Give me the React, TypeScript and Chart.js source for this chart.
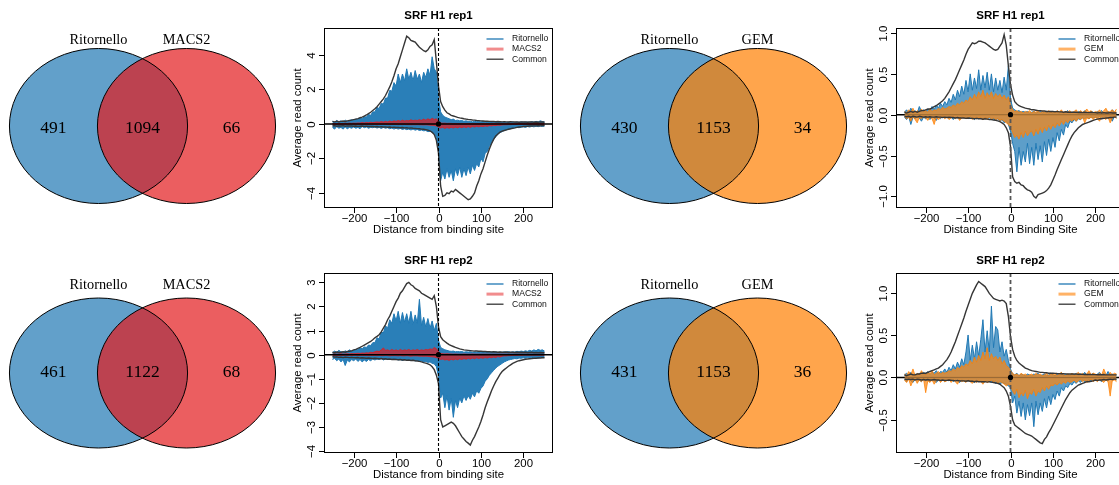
import React, { useEffect, useRef } from "react";
import { Chart, registerables } from "chart.js";
Chart.register(...registerables);

// ---------------- DATA ----------------
const positions = [
  -250,-245,-240,-235,-230,-225,-220,-215,-210,-205,
  -200,-195,-190,-185,-180,-175,-170,-165,-160,-155,
  -150,-145,-140,-135,-130,-125,-120,-115,-110,-105,
  -100,-95,-90,-85,-80,-75,-70,-65,-60,-55,
  -50,-45,-40,-35,-30,-25,-20,-15,-10,-5,
  0,5,10,15,20,25,30,35,40,45,
  50,55,60,65,70,75,80,85,90,95,
  100,105,110,115,120,125,130,135,140,145,
  150,155,160,165,170,175,180,185,190,195,
  200,205,210,215,220,225,230,235,240,245,250
];

const xTickValues = [-200, -100, 0, 100, 200];
const xTickLabels = ["\u2212200", "\u2212100", "0", "100", "200"];

// SRF H1 rep1 — Ritornello vs MACS2
const com1Pos = [
  0.15,0.12,0.16,0.13,0.15,0.17,0.14,0.18,0.2,0.22,
  0.25,0.28,0.31,0.36,0.4,0.46,0.52,0.6,0.68,0.78,
  0.88,1.0,1.15,1.3,1.45,1.65,1.9,2.15,2.45,2.8,
  3.2,3.5,3.9,4.3,4.7,5.1,5.0,4.85,4.8,4.75,
  4.6,4.45,4.35,4.25,4.2,4.3,4.5,4.6,4.9,3.6,
  2.2,1.3,1.0,0.8,0.65,0.58,0.5,0.46,0.42,0.38,
  0.35,0.33,0.3,0.28,0.26,0.25,0.23,0.22,0.2,0.19,
  0.18,0.17,0.16,0.16,0.15,0.14,0.15,0.13,0.14,0.13,
  0.12,0.13,0.12,0.11,0.13,0.12,0.11,0.12,0.1,0.12,
  0.11,0.12,0.1,0.11,0.12,0.1,0.11,0.1,0.12,0.11,0.1
];
const com1Neg = [
  -0.12,-0.1,-0.13,-0.11,-0.12,-0.1,-0.13,-0.11,-0.12,-0.12,
  -0.13,-0.12,-0.14,-0.13,-0.12,-0.14,-0.13,-0.15,-0.14,-0.15,
  -0.16,-0.15,-0.17,-0.16,-0.18,-0.17,-0.19,-0.18,-0.2,-0.19,
  -0.21,-0.2,-0.22,-0.21,-0.23,-0.22,-0.24,-0.23,-0.25,-0.26,
  -0.27,-0.28,-0.3,-0.31,-0.33,-0.36,-0.4,-0.48,-0.62,-0.95,
  -1.7,-3.6,-4.2,-4.15,-4.0,-4.05,-3.9,-3.95,-3.8,-3.9,
  -4.0,-4.1,-4.2,-4.3,-4.4,-4.35,-4.2,-4.0,-3.6,-3.3,
  -2.9,-2.6,-2.2,-1.8,-1.45,-1.15,-0.9,-0.7,-0.58,-0.48,
  -0.42,-0.38,-0.34,-0.31,-0.28,-0.25,-0.23,-0.2,-0.18,-0.17,
  -0.15,-0.14,-0.13,-0.12,-0.12,-0.11,-0.11,-0.1,-0.11,-0.1,-0.1
];
const rit1Pos = [
  0.15,0.1,0.2,0.12,0.18,0.1,0.22,0.14,0.2,0.25,
  0.2,0.28,0.25,0.33,0.3,0.42,0.4,0.55,0.5,0.7,
  0.7,0.95,0.9,1.2,1.15,1.5,1.5,1.95,1.9,2.4,
  2.2,2.9,2.4,2.9,2.5,3.2,2.6,3.0,2.5,3.1,
  2.6,2.9,2.4,3.0,2.7,3.2,2.8,3.9,3.2,3.0,
  1.5,0.7,0.5,0.4,0.35,0.3,0.25,0.28,0.2,0.22,
  0.18,0.2,0.15,0.18,0.14,0.16,0.12,0.15,0.13,0.14,
  0.12,0.14,0.1,0.13,0.11,0.12,0.1,0.13,0.11,0.12,
  0.1,0.12,0.09,0.11,0.1,0.12,0.09,0.11,0.1,0.12,
  0.1,0.11,0.12,0.1,0.13,0.11,0.15,0.12,0.18,0.14,0.12
];
const rit1Neg = [
  -0.2,-0.3,-0.15,-0.25,-0.2,-0.3,-0.18,-0.28,-0.2,-0.25,
  -0.18,-0.25,-0.2,-0.28,-0.15,-0.22,-0.18,-0.25,-0.2,-0.22,
  -0.18,-0.24,-0.2,-0.26,-0.2,-0.25,-0.22,-0.28,-0.24,-0.3,
  -0.25,-0.3,-0.26,-0.32,-0.28,-0.33,-0.3,-0.35,-0.3,-0.36,
  -0.32,-0.38,-0.35,-0.4,-0.38,-0.45,-0.42,-0.5,-0.55,-0.8,
  -1.5,-3.3,-2.8,-3.2,-2.6,-3.1,-2.7,-3.3,-2.6,-3.0,
  -2.5,-3.1,-2.6,-3.0,-2.5,-2.9,-2.4,-2.7,-2.3,-2.5,
  -2.0,-2.2,-1.7,-1.6,-1.3,-1.1,-0.9,-0.75,-0.6,-0.5,
  -0.45,-0.38,-0.35,-0.3,-0.28,-0.25,-0.22,-0.2,-0.22,-0.18,
  -0.16,-0.2,-0.15,-0.18,-0.14,-0.17,-0.13,-0.16,-0.12,-0.15,-0.12
];
const mac1Pos = [
  0.02,0.03,0.02,0.04,0.02,0.03,0.04,0.03,0.05,0.03,
  0.05,0.04,0.06,0.05,0.08,0.06,0.09,0.07,0.1,0.08,
  0.1,0.12,0.1,0.14,0.11,0.15,0.12,0.17,0.13,0.18,
  0.15,0.2,0.16,0.22,0.17,0.2,0.18,0.24,0.19,0.22,
  0.2,0.25,0.21,0.28,0.22,0.3,0.24,0.33,0.26,0.3,
  0.15,0.06,0.04,0.05,0.03,0.04,0.03,0.02,0.03,0.02,
  0.02,0.03,0.02,0.02,0.03,0.02,0.02,0.03,0.02,0.02,
  0.02,0.02,0.03,0.02,0.02,0.02,0.03,0.02,0.02,0.02,
  0.02,0.02,0.02,0.02,0.02,0.02,0.02,0.02,0.02,0.02,
  0.02,0.02,0.02,0.02,0.02,0.02,0.02,0.02,0.02,0.02,0.02
];
const mac1Neg = [
  -0.02,-0.03,-0.02,-0.02,-0.03,-0.02,-0.02,-0.03,-0.02,-0.02,
  -0.02,-0.03,-0.02,-0.03,-0.02,-0.03,-0.02,-0.03,-0.03,-0.02,
  -0.03,-0.02,-0.03,-0.03,-0.02,-0.03,-0.03,-0.04,-0.03,-0.03,
  -0.03,-0.04,-0.03,-0.04,-0.03,-0.04,-0.04,-0.05,-0.04,-0.05,
  -0.04,-0.05,-0.05,-0.06,-0.05,-0.06,-0.07,-0.08,-0.09,-0.12,
  -0.18,-0.24,-0.2,-0.26,-0.21,-0.25,-0.2,-0.24,-0.19,-0.23,
  -0.18,-0.22,-0.17,-0.21,-0.16,-0.2,-0.15,-0.18,-0.14,-0.17,
  -0.13,-0.15,-0.12,-0.14,-0.1,-0.12,-0.09,-0.1,-0.07,-0.08,
  -0.06,-0.05,-0.05,-0.04,-0.04,-0.03,-0.03,-0.03,-0.02,-0.03,
  -0.02,-0.02,-0.02,-0.02,-0.02,-0.02,-0.02,-0.02,-0.02,-0.02,-0.02
];

// SRF H1 rep2 — Ritornello vs MACS2
const com3Pos = [
  0.1,0.08,0.11,0.09,0.1,0.12,0.1,0.13,0.14,0.16,
  0.2,0.22,0.26,0.3,0.35,0.4,0.45,0.5,0.55,0.62,
  0.7,0.76,0.83,0.95,1.1,1.25,1.45,1.6,1.8,2.0,
  2.2,2.35,2.55,2.65,2.8,2.95,3.0,2.9,2.85,2.75,
  2.7,2.65,2.55,2.5,2.45,2.4,2.35,2.3,2.45,2.0,
  1.15,0.75,0.62,0.55,0.48,0.42,0.38,0.34,0.3,0.27,
  0.24,0.22,0.2,0.19,0.18,0.17,0.16,0.15,0.15,0.14,
  0.14,0.13,0.13,0.12,0.12,0.11,0.12,0.11,0.1,0.11,
  0.1,0.1,0.11,0.09,0.1,0.1,0.09,0.1,0.09,0.1,
  0.09,0.1,0.08,0.09,0.1,0.08,0.09,0.08,0.09,0.08,0.08
];
const com3Neg = [
  -0.08,-0.1,-0.09,-0.11,-0.1,-0.12,-0.1,-0.11,-0.12,-0.11,
  -0.12,-0.13,-0.12,-0.14,-0.13,-0.14,-0.15,-0.14,-0.15,-0.16,
  -0.15,-0.16,-0.17,-0.16,-0.18,-0.17,-0.19,-0.18,-0.2,-0.19,
  -0.2,-0.21,-0.2,-0.22,-0.21,-0.23,-0.22,-0.24,-0.23,-0.25,
  -0.26,-0.28,-0.3,-0.33,-0.35,-0.38,-0.42,-0.5,-0.62,-0.85,
  -1.2,-2.7,-3.0,-2.95,-2.9,-2.85,-2.8,-2.85,-2.95,-3.1,
  -3.25,-3.4,-3.5,-3.6,-3.67,-3.75,-3.55,-3.4,-3.2,-3.0,
  -2.77,-2.5,-2.2,-1.95,-1.73,-1.5,-1.3,-1.12,-0.97,-0.82,
  -0.7,-0.62,-0.55,-0.48,-0.42,-0.36,-0.32,-0.28,-0.25,-0.23,
  -0.21,-0.19,-0.18,-0.17,-0.16,-0.15,-0.15,-0.14,-0.14,-0.13,-0.13
];
const rit3Pos = [
  0.08,0.15,0.1,0.18,0.12,0.1,0.16,0.12,0.2,0.15,
  0.18,0.22,0.2,0.28,0.25,0.32,0.3,0.4,0.38,0.5,
  0.5,0.7,0.65,0.95,0.9,1.2,1.1,1.45,1.3,1.7,
  1.4,1.8,1.3,1.75,1.35,1.7,1.3,1.8,1.25,1.65,
  1.3,2.3,1.2,1.55,1.15,1.5,1.1,1.4,1.0,1.3,
  0.6,0.3,0.25,0.2,0.18,0.15,0.14,0.15,0.12,0.13,
  0.12,0.13,0.1,0.12,0.11,0.12,0.1,0.11,0.1,0.12,
  0.1,0.11,0.1,0.12,0.1,0.11,0.1,0.12,0.1,0.11,
  0.1,0.12,0.11,0.13,0.1,0.12,0.11,0.14,0.12,0.15,
  0.13,0.16,0.14,0.18,0.15,0.2,0.16,0.22,0.18,0.2,0.15
];
const rit3Neg = [
  -0.2,-0.15,-0.25,-0.18,-0.3,-0.2,-0.45,-0.22,-0.3,-0.2,
  -0.25,-0.18,-0.28,-0.2,-0.3,-0.22,-0.28,-0.2,-0.25,-0.18,
  -0.22,-0.18,-0.2,-0.16,-0.22,-0.18,-0.2,-0.16,-0.18,-0.2,
  -0.18,-0.22,-0.2,-0.24,-0.2,-0.22,-0.2,-0.25,-0.22,-0.26,
  -0.24,-0.28,-0.26,-0.3,-0.28,-0.32,-0.3,-0.36,-0.38,-0.5,
  -0.9,-1.8,-1.6,-2.2,-1.7,-2.3,-1.8,-2.6,-1.9,-2.2,
  -1.8,-2.0,-1.7,-1.9,-1.7,-1.85,-1.6,-1.75,-1.5,-1.6,
  -1.4,-1.3,-1.1,-1.0,-0.85,-0.75,-0.65,-0.55,-0.48,-0.42,
  -0.36,-0.3,-0.26,-0.22,-0.2,-0.18,-0.16,-0.17,-0.14,-0.15,
  -0.13,-0.15,-0.12,-0.14,-0.11,-0.13,-0.12,-0.14,-0.11,-0.12,-0.1
];
const mac3Pos = [
  0.02,0.03,0.02,0.03,0.04,0.02,0.03,0.04,0.03,0.05,
  0.04,0.05,0.06,0.05,0.07,0.06,0.08,0.07,0.1,0.09,
  0.12,0.15,0.13,0.2,0.28,0.18,0.2,0.16,0.22,0.17,
  0.2,0.16,0.22,0.17,0.2,0.18,0.22,0.17,0.2,0.18,
  0.22,0.17,0.2,0.18,0.22,0.2,0.24,0.22,0.3,0.25,
  0.12,0.05,0.04,0.03,0.04,0.03,0.03,0.02,0.03,0.02,
  0.02,0.02,0.03,0.02,0.02,0.02,0.03,0.02,0.02,0.02,
  0.02,0.02,0.02,0.02,0.02,0.02,0.02,0.02,0.02,0.02,
  0.02,0.02,0.02,0.02,0.02,0.02,0.02,0.02,0.02,0.02,
  0.02,0.02,0.02,0.02,0.02,0.02,0.02,0.02,0.02,0.02,0.02
];
const mac3Neg = [
  -0.02,-0.03,-0.02,-0.03,-0.02,-0.03,-0.02,-0.03,-0.02,-0.03,
  -0.03,-0.02,-0.03,-0.03,-0.02,-0.03,-0.03,-0.04,-0.03,-0.03,
  -0.03,-0.04,-0.03,-0.04,-0.04,-0.03,-0.04,-0.05,-0.04,-0.04,
  -0.04,-0.05,-0.04,-0.05,-0.05,-0.04,-0.05,-0.06,-0.05,-0.05,
  -0.05,-0.06,-0.06,-0.07,-0.06,-0.07,-0.08,-0.09,-0.1,-0.12,
  -0.15,-0.2,-0.18,-0.22,-0.2,-0.24,-0.19,-0.22,-0.18,-0.21,
  -0.17,-0.2,-0.16,-0.19,-0.15,-0.18,-0.14,-0.17,-0.13,-0.16,
  -0.13,-0.15,-0.12,-0.14,-0.11,-0.13,-0.1,-0.12,-0.08,-0.1,
  -0.06,-0.05,-0.05,-0.04,-0.04,-0.03,-0.03,-0.03,-0.02,-0.03,
  -0.02,-0.02,-0.02,-0.02,-0.02,-0.02,-0.02,-0.02,-0.02,-0.02,-0.02
];

// SRF H1 rep1 — Ritornello vs GEM
const com2Pos = [
  0.03,0.02,0.03,0.04,0.03,0.04,0.03,0.04,0.05,0.05,
  0.06,0.07,0.07,0.08,0.1,0.11,0.13,0.15,0.17,0.2,
  0.24,0.28,0.33,0.38,0.43,0.49,0.55,0.61,0.67,0.74,
  0.8,0.84,0.88,0.87,0.88,0.9,0.9,0.89,0.88,0.86,
  0.84,0.82,0.8,0.79,0.8,0.84,0.88,0.98,0.85,0.6,
  0.37,0.24,0.16,0.13,0.11,0.1,0.09,0.08,0.075,0.07,
  0.06,0.06,0.055,0.05,0.05,0.045,0.045,0.04,0.04,0.04,
  0.04,0.035,0.04,0.035,0.035,0.03,0.035,0.03,0.03,0.03,
  0.03,0.03,0.025,0.03,0.025,0.03,0.025,0.025,0.03,0.025,
  0.025,0.02,0.025,0.02,0.025,0.02,0.02,0.025,0.02,0.02,0.02
];
const com2Neg = [
  -0.02,-0.025,-0.02,-0.03,-0.02,-0.025,-0.03,-0.02,-0.025,-0.03,
  -0.025,-0.03,-0.025,-0.03,-0.03,-0.025,-0.03,-0.03,-0.035,-0.03,
  -0.035,-0.03,-0.035,-0.035,-0.04,-0.035,-0.04,-0.04,-0.04,-0.045,
  -0.04,-0.045,-0.045,-0.05,-0.045,-0.05,-0.05,-0.055,-0.05,-0.055,
  -0.06,-0.06,-0.065,-0.07,-0.075,-0.085,-0.1,-0.12,-0.16,-0.22,
  -0.39,-0.76,-0.82,-0.84,-0.83,-0.86,-0.87,-0.9,-0.92,-0.93,
  -0.95,-1.0,-1.02,-0.98,-0.97,-0.96,-0.95,-0.93,-0.9,-0.86,
  -0.8,-0.74,-0.67,-0.61,-0.55,-0.49,-0.43,-0.37,-0.31,-0.26,
  -0.22,-0.19,-0.16,-0.14,-0.12,-0.11,-0.1,-0.09,-0.08,-0.07,
  -0.06,-0.055,-0.05,-0.05,-0.045,-0.04,-0.04,-0.035,-0.035,-0.03,-0.03
];
const rit2Pos = [
  0.03,0.06,0.02,0.08,0.03,0.05,0.02,0.1,0.04,0.06,
  0.03,0.07,0.05,0.1,0.06,0.12,0.08,0.14,0.1,0.16,
  0.12,0.2,0.15,0.25,0.18,0.3,0.22,0.35,0.25,0.42,
  0.28,0.5,0.3,0.45,0.32,0.55,0.3,0.48,0.33,0.52,
  0.3,0.5,0.28,0.45,0.3,0.42,0.27,0.46,0.3,0.6,
  0.2,0.08,0.06,0.04,0.05,0.03,0.04,0.03,0.04,0.02,
  0.03,0.04,0.02,0.03,0.05,0.02,0.03,0.04,0.02,0.03,
  0.02,0.04,0.03,0.02,0.04,0.02,0.03,0.05,0.02,0.03,
  0.03,0.02,0.04,0.03,0.02,0.05,0.03,0.02,0.04,0.03,
  0.02,0.04,0.03,0.05,0.02,0.03,0.04,0.02,0.06,0.03,0.02
];
const rit2Neg = [
  -0.03,-0.06,-0.02,-0.12,-0.03,-0.05,-0.02,-0.04,-0.08,-0.03,
  -0.05,-0.03,-0.06,-0.02,-0.04,-0.07,-0.03,-0.05,-0.02,-0.04,
  -0.03,-0.05,-0.02,-0.06,-0.03,-0.04,-0.05,-0.02,-0.04,-0.03,
  -0.05,-0.03,-0.04,-0.06,-0.03,-0.05,-0.04,-0.06,-0.03,-0.05,
  -0.04,-0.06,-0.05,-0.07,-0.05,-0.08,-0.06,-0.1,-0.08,-0.12,
  -0.2,-0.35,-0.45,-0.7,-0.4,-0.62,-0.45,-0.58,-0.35,-0.6,
  -0.4,-0.62,-0.35,-0.55,-0.38,-0.58,-0.33,-0.5,-0.3,-0.45,
  -0.28,-0.4,-0.22,-0.32,-0.18,-0.25,-0.12,-0.16,-0.08,-0.1,
  -0.06,-0.08,-0.05,-0.06,-0.04,-0.05,-0.03,-0.05,-0.03,-0.04,
  -0.03,-0.04,-0.02,-0.05,-0.03,-0.02,-0.04,-0.03,-0.08,-0.02,-0.03
];
const gem2Pos = [
  0.04,0.02,0.06,0.03,0.08,0.02,0.05,0.03,0.07,0.04,
  0.05,0.03,0.07,0.04,0.06,0.05,0.08,0.06,0.09,0.07,
  0.08,0.1,0.09,0.12,0.1,0.14,0.12,0.16,0.14,0.18,
  0.16,0.22,0.18,0.25,0.2,0.28,0.22,0.3,0.2,0.27,
  0.22,0.28,0.2,0.26,0.22,0.25,0.2,0.24,0.18,0.22,
  0.12,0.06,0.04,0.05,0.03,0.04,0.02,0.04,0.03,0.05,
  0.02,0.04,0.03,0.05,0.02,0.04,0.03,0.02,0.05,0.03,
  0.04,0.02,0.05,0.03,0.06,0.02,0.04,0.03,0.05,0.02,
  0.04,0.06,0.02,0.05,0.03,0.04,0.07,0.03,0.05,0.02,
  0.04,0.03,0.06,0.02,0.05,0.08,0.03,0.04,0.06,0.03,0.07
];
const gem2Neg = [
  -0.02,-0.05,-0.03,-0.08,-0.02,-0.06,-0.1,-0.03,-0.05,-0.02,
  -0.04,-0.07,-0.03,-0.05,-0.12,-0.03,-0.06,-0.04,-0.02,-0.05,
  -0.03,-0.06,-0.04,-0.02,-0.05,-0.03,-0.07,-0.04,-0.03,-0.05,
  -0.04,-0.02,-0.06,-0.03,-0.05,-0.04,-0.03,-0.06,-0.04,-0.05,
  -0.03,-0.05,-0.04,-0.06,-0.05,-0.07,-0.06,-0.08,-0.1,-0.12,
  -0.15,-0.22,-0.28,-0.25,-0.3,-0.22,-0.28,-0.2,-0.26,-0.22,
  -0.2,-0.26,-0.18,-0.24,-0.16,-0.22,-0.15,-0.2,-0.13,-0.18,
  -0.12,-0.16,-0.1,-0.14,-0.08,-0.12,-0.07,-0.1,-0.06,-0.08,
  -0.05,-0.08,-0.04,-0.06,-0.03,-0.1,-0.04,-0.05,-0.03,-0.06,
  -0.03,-0.05,-0.08,-0.02,-0.04,-0.06,-0.03,-0.1,-0.04,-0.02,-0.05
];

// SRF H1 rep2 — Ritornello vs GEM
const com4Pos = [
  0.03,0.02,0.03,0.04,0.03,0.03,0.04,0.04,0.05,0.05,
  0.05,0.06,0.07,0.08,0.09,0.1,0.11,0.13,0.15,0.18,
  0.21,0.25,0.3,0.36,0.42,0.49,0.56,0.63,0.7,0.78,
  0.85,0.92,0.99,1.04,1.09,1.13,1.11,1.09,1.07,1.03,
  0.99,0.96,0.93,0.92,0.91,0.9,0.91,0.9,0.87,0.72,
  0.48,0.33,0.25,0.2,0.17,0.15,0.13,0.11,0.1,0.09,
  0.08,0.075,0.07,0.065,0.06,0.06,0.055,0.055,0.05,0.05,
  0.05,0.048,0.046,0.045,0.044,0.043,0.042,0.041,0.04,0.04,
  0.04,0.039,0.038,0.037,0.036,0.035,0.035,0.034,0.034,0.033,
  0.033,0.032,0.032,0.031,0.031,0.03,0.03,0.03,0.03,0.03,0.03
];
const com4Neg = [
  -0.02,-0.025,-0.02,-0.025,-0.02,-0.03,-0.02,-0.025,-0.03,-0.025,
  -0.03,-0.025,-0.03,-0.03,-0.025,-0.03,-0.03,-0.035,-0.03,-0.035,
  -0.035,-0.03,-0.035,-0.035,-0.04,-0.035,-0.04,-0.04,-0.04,-0.045,
  -0.04,-0.045,-0.045,-0.05,-0.045,-0.05,-0.05,-0.05,-0.05,-0.055,
  -0.05,-0.055,-0.06,-0.065,-0.07,-0.08,-0.1,-0.12,-0.16,-0.22,
  -0.34,-0.5,-0.56,-0.58,-0.6,-0.62,-0.64,-0.66,-0.67,-0.68,
  -0.69,-0.71,-0.73,-0.75,-0.77,-0.78,-0.73,-0.7,-0.65,-0.61,
  -0.56,-0.51,-0.46,-0.41,-0.36,-0.31,-0.26,-0.22,-0.18,-0.15,
  -0.13,-0.11,-0.09,-0.08,-0.07,-0.06,-0.05,-0.05,-0.045,-0.04,
  -0.03,-0.035,-0.03,-0.03,-0.025,-0.03,-0.025,-0.02,-0.025,-0.02,-0.02
];
const rit4Pos = [
  0.03,0.05,0.02,0.06,0.03,0.04,0.02,0.05,0.03,0.06,
  0.04,0.07,0.03,0.06,0.05,0.08,0.04,0.07,0.06,0.1,
  0.06,0.12,0.08,0.15,0.1,0.18,0.12,0.22,0.15,0.3,
  0.5,0.2,0.38,0.22,0.42,0.25,0.45,0.68,0.3,0.55,
  0.3,0.84,0.35,0.6,0.56,0.3,0.42,0.25,0.33,0.2,
  0.1,0.04,0.03,0.05,0.02,0.04,0.03,0.02,0.04,0.03,
  0.02,0.04,0.03,0.05,0.02,0.03,0.04,0.02,0.03,0.05,
  0.03,0.02,0.04,0.03,0.06,0.02,0.04,0.03,0.02,0.04,
  0.03,0.05,0.02,0.04,0.03,0.06,0.02,0.04,0.03,0.05,
  0.02,0.04,0.06,0.03,0.05,0.02,0.07,0.03,0.04,0.02,0.03
];
const rit4Neg = [
  -0.03,-0.05,-0.02,-0.04,-0.06,-0.02,-0.04,-0.03,-0.05,-0.02,
  -0.04,-0.03,-0.05,-0.02,-0.04,-0.06,-0.03,-0.04,-0.02,-0.05,
  -0.03,-0.04,-0.02,-0.05,-0.03,-0.04,-0.06,-0.03,-0.04,-0.05,
  -0.03,-0.05,-0.04,-0.06,-0.03,-0.05,-0.04,-0.06,-0.05,-0.04,
  -0.05,-0.06,-0.04,-0.07,-0.05,-0.08,-0.06,-0.07,-0.08,-0.1,
  -0.12,-0.3,-0.22,-0.42,-0.28,-0.46,-0.3,-0.5,-0.32,-0.45,
  -0.3,-0.58,-0.28,-0.44,-0.3,-0.4,-0.25,-0.36,-0.22,-0.32,
  -0.2,-0.26,-0.16,-0.22,-0.12,-0.16,-0.1,-0.12,-0.07,-0.09,
  -0.05,-0.07,-0.04,-0.06,-0.03,-0.05,-0.04,-0.03,-0.05,-0.03,
  -0.02,-0.04,-0.03,-0.05,-0.02,-0.03,-0.04,-0.02,-0.03,-0.02,-0.03
];
const gem4Pos = [
  0.04,0.02,0.07,0.03,0.1,0.02,0.05,0.03,0.08,0.04,
  0.03,0.06,0.04,0.08,0.03,0.05,0.07,0.04,0.06,0.05,
  0.06,0.08,0.07,0.1,0.08,0.12,0.1,0.14,0.12,0.16,
  0.14,0.2,0.16,0.24,0.18,0.26,0.2,0.3,0.22,0.35,
  0.2,0.28,0.22,0.25,0.2,0.24,0.16,0.2,0.14,0.12,
  0.08,0.05,0.03,0.04,0.02,0.05,0.03,0.04,0.02,0.03,
  0.04,0.02,0.05,0.03,0.04,0.02,0.03,0.05,0.02,0.04,
  0.03,0.05,0.02,0.04,0.06,0.03,0.02,0.04,0.03,0.05,
  0.02,0.04,0.06,0.03,0.05,0.02,0.04,0.08,0.03,0.05,
  0.04,0.02,0.05,0.03,0.1,0.04,0.02,0.06,0.03,0.05,0.04
];
const gem4Neg = [
  -0.03,-0.06,-0.02,-0.1,-0.04,-0.02,-0.07,-0.03,-0.05,-0.02,
  -0.18,-0.04,-0.06,-0.03,-0.08,-0.04,-0.02,-0.06,-0.03,-0.05,
  -0.04,-0.02,-0.06,-0.03,-0.05,-0.08,-0.03,-0.05,-0.04,-0.06,
  -0.03,-0.05,-0.07,-0.04,-0.06,-0.03,-0.05,-0.08,-0.04,-0.06,
  -0.05,-0.03,-0.06,-0.04,-0.07,-0.05,-0.06,-0.08,-0.1,-0.08,
  -0.1,-0.16,-0.2,-0.14,-0.24,-0.18,-0.22,-0.15,-0.25,-0.18,
  -0.2,-0.14,-0.22,-0.16,-0.18,-0.12,-0.16,-0.1,-0.14,-0.09,
  -0.1,-0.07,-0.09,-0.06,-0.08,-0.05,-0.07,-0.04,-0.06,-0.05,
  -0.03,-0.06,-0.04,-0.02,-0.05,-0.03,-0.06,-0.04,-0.02,-0.05,
  -0.03,-0.05,-0.02,-0.04,-0.06,-0.03,-0.05,-0.22,-0.04,-0.03,-0.05
];

// Venn diagrams
const vennMacsNames = ["Ritornello", "MACS2"];
const vennGemNames = ["Ritornello", "GEM"];
const vennMacsRep1 = [491, 1094, 66];
const vennGemRep1 = [430, 1153, 34];
const vennMacsRep2 = [461, 1122, 68];
const vennGemRep2 = [431, 1153, 36];

// tick sets
const yTicksRep1Macs = [-4, -2, 0, 2, 4];
const yLabelsRep1Macs = ["\u22124", "\u22122", "0", "2", "4"];
const yTicksRep2Macs = [-4, -3, -2, -1, 0, 1, 2, 3];
const yLabelsRep2Macs = ["\u22124", "\u22123", "\u22122", "\u22121", "0", "1", "2", "3"];
const yTicksRep1Gem = [-1, -0.5, 0, 0.5, 1];
const yLabelsRep1Gem = ["\u22121.0", "\u22120.5", "0.0", "0.5", "1.0"];
const yTicksRep2Gem = [-0.5, 0, 0.5, 1];
const yLabelsRep2Gem = ["\u22120.5", "0.0", "0.5", "1.0"];

// ---------------- STYLE ----------------
const SANS = '"Liberation Sans", Arial, Helvetica, sans-serif';
const SERIF = '"Liberation Serif", "Times New Roman", serif';
const RIT = "#1F78B4";
const COMMON = "#363636";

const VENN_R = 1;
const VENN_CX = [-0.494, 0.494];
const VENN_COUNT_X = [-1.0, 0, 1.0];

function Venn(props: any) {
  const { left, top, width, height, names, counts, rightFill, labelY, countY } = props;
  const ref = useRef<HTMLCanvasElement>(null);
  useEffect(() => {
    const plugin = {
      id: "venn",
      afterDatasetsDraw(chart: any) {
        const { ctx } = chart;
        const xs = chart.scales.x;
        const ys = chart.scales.y;
        const pts = chart.getDatasetMeta(0).data;
        const rx = Math.abs(xs.getPixelForValue(VENN_R) - xs.getPixelForValue(0));
        const ry = Math.abs(ys.getPixelForValue(VENN_R) - ys.getPixelForValue(0));
        const fills = ["rgba(31,120,180,0.7)", rightFill];
        ctx.save();
        pts.forEach((p: any, i: number) => {
          ctx.fillStyle = fills[i];
          ctx.beginPath();
          ctx.ellipse(p.x, p.y, rx, ry, 0, 0, Math.PI * 2);
          ctx.fill();
        });
        ctx.strokeStyle = "#000";
        ctx.lineWidth = 1;
        pts.forEach((p: any) => {
          ctx.beginPath();
          ctx.ellipse(p.x, p.y, rx, ry, 0, 0, Math.PI * 2);
          ctx.stroke();
        });
        ctx.fillStyle = "#000";
        ctx.textAlign = "center";
        ctx.textBaseline = "alphabetic";
        ctx.font = `14.3px ${SERIF}`;
        names.forEach((n: string, i: number) => {
          ctx.fillText(n, pts[i].x, ys.getPixelForValue(labelY));
        });
        ctx.font = `17.5px ${SERIF}`;
        counts.forEach((c: number, i: number) => {
          ctx.fillText(String(c), xs.getPixelForValue(VENN_COUNT_X[i]), ys.getPixelForValue(countY));
        });
        ctx.restore();
      },
    };
    const chart = new Chart(ref.current as HTMLCanvasElement, {
      type: "scatter",
      data: {
        datasets: [
          {
            data: VENN_CX.map((x) => ({ x, y: 0 })),
            pointRadius: 0,
            pointHoverRadius: 0,
          },
        ],
      },
      options: {
        animation: false,
        responsive: false,
        events: [],
        layout: { padding: 0 },
        plugins: { legend: { display: false }, tooltip: { enabled: false } },
        scales: {
          x: { type: "linear", min: -1.6, max: 1.6, display: false },
          y: { type: "linear", min: -1.6, max: 1.6, display: false },
        },
      } as any,
      plugins: [plugin],
    });
    return () => chart.destroy();
  }, []);
  return (
    <canvas
      ref={ref}
      width={width}
      height={height}
      style={{ position: "absolute", left, top, width, height }}
    />
  );
}

function makeRPlot(cfg: any) {
  const zeroLine = (chart: any) => {
    const { ctx, chartArea: a } = chart;
    const y0 = chart.scales.y.getPixelForValue(0);
    ctx.save();
    ctx.strokeStyle = "#000";
    ctx.lineWidth = 1.4;
    ctx.beginPath();
    ctx.moveTo(a.left, y0);
    ctx.lineTo(a.right, y0);
    ctx.stroke();
    ctx.restore();
  };
  return {
    id: "rplot",
    beforeDatasetsDraw(chart: any) {
      if (cfg.zeroUnder) zeroLine(chart);
    },
    afterDatasetsDraw(chart: any) {
      const { ctx, chartArea: a } = chart;
      const xs = chart.scales.x;
      const ys = chart.scales.y;
      if (!cfg.zeroUnder) zeroLine(chart);
      ctx.save();
      ctx.beginPath();
      ctx.rect(a.left, a.top, a.right - a.left, a.bottom - a.top);
      ctx.clip();
      const y0 = ys.getPixelForValue(0);
      const x0 = xs.getPixelForValue(0);
      ctx.strokeStyle = cfg.vColor;
      ctx.lineWidth = cfg.vWidth;
      ctx.setLineDash(cfg.vDash);
      ctx.beginPath();
      ctx.moveTo(x0, a.top);
      ctx.lineTo(x0, a.bottom);
      ctx.stroke();
      ctx.setLineDash([]);
      ctx.fillStyle = "#000";
      ctx.beginPath();
      ctx.arc(x0, y0, 2.6, 0, Math.PI * 2);
      ctx.fill();
      ctx.restore();
    },
    afterDraw(chart: any) {
      const { ctx, chartArea: a } = chart;
      const xs = chart.scales.x;
      const ys = chart.scales.y;
      ctx.save();
      ctx.strokeStyle = "#000";
      ctx.lineWidth = 1;
      ctx.strokeRect(a.left + 0.5, a.top + 0.5, a.right - a.left - 1, a.bottom - a.top - 1);
      ctx.fillStyle = "#000";
      ctx.font = `11.4px ${SANS}`;
      ctx.textAlign = "center";
      ctx.textBaseline = "middle";
      xs.ticks.forEach((t: any, i: number) => {
        const px = Math.round(xs.getPixelForValue(t.value)) + 0.5;
        ctx.beginPath();
        ctx.moveTo(px, a.bottom);
        ctx.lineTo(px, a.bottom + 5);
        ctx.stroke();
        ctx.fillText(cfg.xLabels[i], px, a.bottom + 10.5);
      });
      ys.ticks.forEach((t: any, i: number) => {
        const py = Math.round(ys.getPixelForValue(t.value)) + 0.5;
        ctx.beginPath();
        ctx.moveTo(a.left, py);
        ctx.lineTo(a.left - 5, py);
        ctx.stroke();
        ctx.save();
        ctx.translate(a.left - 12, py);
        ctx.rotate(-Math.PI / 2);
        ctx.fillText(cfg.yLabels[i], 0, 0);
        ctx.restore();
      });
      const cx = (a.left + a.right) / 2;
      const cy = (a.top + a.bottom) / 2;
      ctx.fillText(cfg.xTitle, cx, a.bottom + 21.8);
      ctx.save();
      ctx.translate(a.left - 26.5, cy);
      ctx.rotate(-Math.PI / 2);
      ctx.fillText(cfg.yTitle, 0, 0);
      ctx.restore();
      ctx.font = `bold 11.5px ${SANS}`;
      ctx.fillText(cfg.title, cx, a.top - 12.2);
      // legend
      ctx.font = `8.6px ${SANS}`;
      ctx.textAlign = "left";
      cfg.legend.forEach((item: any, i: number) => {
        const ly = a.top + 11 + 10.1 * i;
        ctx.strokeStyle = item.color;
        ctx.lineWidth = item.width;
        ctx.beginPath();
        ctx.moveTo(a.right - 66.5, ly);
        ctx.lineTo(a.right - 49.5, ly);
        ctx.stroke();
        ctx.fillStyle = "#111";
        ctx.fillText(item.label, a.right - 41, ly);
      });
      ctx.restore();
    },
  };
}

function Profile(props: any) {
  const { left, top, cfg } = props;
  const ref = useRef<HTMLCanvasElement>(null);
  useEffect(() => {
    const mk = (vals: number[]) => positions.map((x, i) => ({ x, y: vals[i] }));
    const line = (label: string, vals: number[], border: string, fill: string | null, width: number, order: number) => ({
      label,
      data: mk(vals),
      borderColor: border,
      backgroundColor: fill || border,
      borderWidth: width,
      fill: fill ? "origin" : false,
      pointRadius: 0,
      order,
    });
    const chart = new Chart(ref.current as HTMLCanvasElement, {
      type: "line",
      data: {
        datasets: [
          line("Common", cfg.comPos, COMMON, null, 1.4, 1),
          line("Common", cfg.comNeg, COMMON, null, 1.4, 1),
          line(cfg.otherName, cfg.othPos, cfg.othLine, cfg.othFill, 1, 2),
          line(cfg.otherName, cfg.othNeg, cfg.othLine, cfg.othFill, 1, 2),
          line("Ritornello", cfg.ritPos, RIT, cfg.ritFill, 1, 3),
          line("Ritornello", cfg.ritNeg, RIT, cfg.ritFill, 1, 3),
        ],
      },
      options: {
        animation: false,
        responsive: false,
        events: [],
        layout: { padding: { left: 0, right: 7, top: 28, bottom: 0 } },
        elements: { point: { radius: 0 }, line: { tension: 0 } },
        plugins: { legend: { display: false }, tooltip: { enabled: false }, title: { display: false } },
        scales: {
          x: {
            type: "linear",
            min: -270,
            max: 270,
            afterBuildTicks: (s: any) => {
              s.ticks = xTickValues.map((v) => ({ value: v }));
            },
            afterFit: (s: any) => {
              s.height = 37;
            },
            ticks: { display: false },
            grid: { display: false },
            border: { display: false },
          },
          y: {
            type: "linear",
            min: cfg.yMin,
            max: cfg.yMax,
            afterBuildTicks: (s: any) => {
              s.ticks = cfg.yTicks.map((v: number) => ({ value: v }));
            },
            afterFit: (s: any) => {
              s.width = 44;
            },
            ticks: { display: false },
            grid: { display: false },
            border: { display: false },
          },
        },
      } as any,
      plugins: [makeRPlot(cfg)],
    });
    return () => chart.destroy();
  }, []);
  return (
    <canvas
      ref={ref}
      width={280}
      height={245}
      style={{ position: "absolute", left, top, width: 280, height: 245 }}
    />
  );
}

const macsLine = "rgba(227,26,28,0.75)";
const macsFill = "rgba(227,26,28,0.7)";
const gemLine = "rgba(255,127,0,0.75)";
const gemFill = "rgba(250,135,20,0.72)";

const legendMacs = [
  { label: "Ritornello", color: RIT, width: 1.3 },
  { label: "MACS2", color: "rgba(227,26,28,0.5)", width: 3 },
  { label: "Common", color: COMMON, width: 1.3 },
];
const legendGem = [
  { label: "Ritornello", color: RIT, width: 1.3 },
  { label: "GEM", color: "rgba(255,127,0,0.6)", width: 3 },
  { label: "Common", color: COMMON, width: 1.3 },
];

const macsStyle = { zeroUnder: false, vColor: "#000", vWidth: 1.1, vDash: [3, 2], ritFill: "rgba(31,120,180,0.95)", othLine: macsLine, othFill: macsFill, otherName: "MACS2", legend: legendMacs, xTitle: "Distance from binding site" };
const gemStyle = { zeroUnder: true, vColor: "#555", vWidth: 1.8, vDash: [4, 3], ritFill: "rgba(31,120,180,0.72)", othLine: gemLine, othFill: gemFill, otherName: "GEM", legend: legendGem, xTitle: "Distance from Binding Site" };

const cfg1 = { ...macsStyle, title: "SRF H1 rep1", yTitle: "Average read count", xLabels: xTickLabels, yMin: -4.88, yMax: 5.57, yTicks: yTicksRep1Macs, yLabels: yLabelsRep1Macs, comPos: com1Pos, comNeg: com1Neg, ritPos: rit1Pos, ritNeg: rit1Neg, othPos: mac1Pos, othNeg: mac1Neg };
const cfg3 = { ...macsStyle, title: "SRF H1 rep2", yTitle: "Average read count", xLabels: xTickLabels, yMin: -4.08, yMax: 3.39, yTicks: yTicksRep2Macs, yLabels: yLabelsRep2Macs, comPos: com3Pos, comNeg: com3Neg, ritPos: rit3Pos, ritNeg: rit3Neg, othPos: mac3Pos, othNeg: mac3Neg };
const cfg2 = { ...gemStyle, title: "SRF H1 rep1", yTitle: "Average read count", xLabels: xTickLabels, yMin: -1.143, yMax: 1.062, yTicks: yTicksRep1Gem, yLabels: yLabelsRep1Gem, comPos: com2Pos, comNeg: com2Neg, ritPos: rit2Pos, ritNeg: rit2Neg, othPos: gem2Pos, othNeg: gem2Neg };
const cfg4 = { ...gemStyle, title: "SRF H1 rep2", yTitle: "Average read count", xLabels: xTickLabels, yMin: -0.89, yMax: 1.23, yTicks: yTicksRep2Gem, yLabels: yLabelsRep2Gem, comPos: com4Pos, comNeg: com4Neg, ritPos: rit4Pos, ritNeg: rit4Neg, othPos: gem4Pos, othNeg: gem4Neg };

export default function App() {
  return (
    <div style={{ position: "absolute", left: 0, top: 0, width: 1119, height: 485, overflow: "hidden", background: "#fff" }}>
      <Venn left={0} top={2} width={285} height={248} names={vennMacsNames} counts={vennMacsRep1} rightFill="rgba(227,26,28,0.7)" labelY={1.058} countY={-0.094} />
      <Venn left={571} top={2} width={285} height={248} names={vennGemNames} counts={vennGemRep1} rightFill="rgba(255,127,0,0.7)" labelY={1.058} countY={-0.094} />
      <Venn left={0} top={253} width={285} height={240} names={vennMacsNames} counts={vennMacsRep2} rightFill="rgba(227,26,28,0.7)" labelY={1.116} countY={-0.057} />
      <Venn left={571} top={253} width={285} height={240} names={vennGemNames} counts={vennGemRep2} rightFill="rgba(255,127,0,0.7)" labelY={1.116} countY={-0.057} />
      <Profile left={280} top={0} cfg={cfg1} />
      <Profile left={852} top={0} cfg={cfg2} />
      <Profile left={280} top={245} cfg={cfg3} />
      <Profile left={852} top={245} cfg={cfg4} />
    </div>
  );
}
